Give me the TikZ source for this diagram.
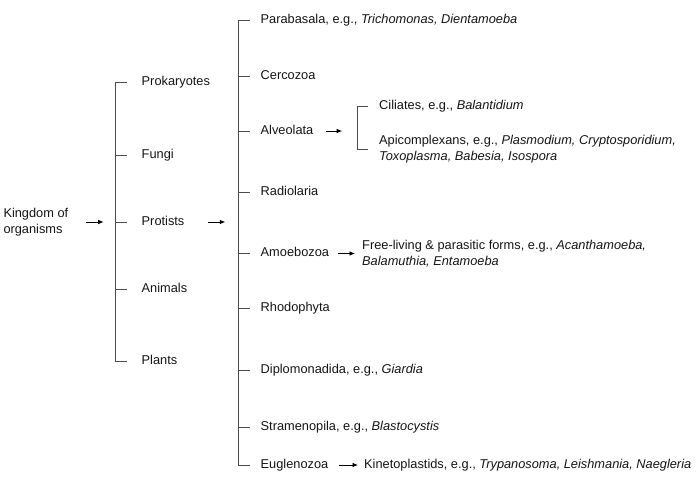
\documentclass[tikz,border=0pt]{standalone}
\usepackage{fontspec}
\setmainfont{Liberation Sans}
\usetikzlibrary{arrows.meta}

\begin{document}
\begin{tikzpicture}[x=1pt, y=-1pt,
  lbl/.style={anchor=west, inner sep=0pt, font=\fontsize{12.8}{16}\selectfont,
              text height=8.5pt, text depth=1.6pt, text=black!92},
  two/.style={anchor=west, inner sep=0pt, font=\fontsize{12.8}{16}\selectfont,
              align=left, text=black!92},
  br/.style={draw=black!70, line width=0.8pt},
  arr/.style={draw=black, line width=0.8pt, -{Latex[length=5.5pt,width=4.5pt]}},
]
\useasboundingbox (0,0) rectangle (700,480);
% kingdoms
\node[two] (king) at (3.3,222) {Kingdom of\\organisms};
\def\xa{141.5}
\foreach \n/\t/\y in {pro/Prokaryotes/82, fun/Fungi/155, prot/Protists/222,
                      ani/Animals/289.5, pla/Plants/361.5}
  \node[lbl] (\n) at (\xa,\y) {\t};
\draw[br] ([xshift=-15pt]pro.west) -- ([xshift=-25.8pt]pro.west)
  -- ([xshift=-25.8pt]pla.west) -- ([xshift=-15pt]pla.west);
\foreach \n in {fun,prot,ani}
  \draw[br] ([xshift=-25.8pt]\n.west) -- ([xshift=-15pt]\n.west);
\coordinate (sp1) at ([xshift=-25.8pt]prot.west);
\draw[arr, shorten >=12pt] ([xshift=18pt]king.east) -- (sp1);
% protist groups
\def\xb{260.5}
\foreach \n/\t/\y in {para/{Parabasala, e.g., \textit{Trichomonas, Dientamoeba}}/20.5,
                      cer/Cercozoa/76, alv/Alveolata/131, rad/Radiolaria/192,
                      amo/Amoebozoa/253.5, rho/Rhodophyta/308,
                      dip/{Diplomonadida, e.g., \textit{Giardia}}/370,
                      str/{Stramenopila, e.g., \textit{Blastocystis}}/427,
                      eug/Euglenozoa/465}
  \node[lbl] (\n) at (\xb,\y) {\t};
\draw[br] ([xshift=-10.5pt]para.west) -- ([xshift=-22.2pt]para.west)
  -- ([xshift=-22.2pt]eug.west) -- ([xshift=-10.5pt]eug.west);
\foreach \n in {cer,alv,rad,amo,rho,dip,str}
  \draw[br] ([xshift=-22.2pt]\n.west) -- ([xshift=-10.5pt]\n.west);
\coordinate (sp2) at ([xshift=-22.2pt]prot.west -| para.west);
\draw[arr, shorten >=13pt] ([xshift=23pt]prot.east) -- (sp2);
% alveolates
\node[lbl] (cil) at (379,106.5) {Ciliates, e.g., \textit{Balantidium}};
\node[two] (api) at (379,149) {Apicomplexans, e.g., \textit{Plasmodium, Cryptosporidium,}\\
  \textit{Toxoplasma, Babesia, Isospora}};
\draw[br] ([xshift=-11pt]cil.west) -- ([xshift=-21.3pt]cil.west)
  -- ([xshift=-21.3pt]api.west) -- ([xshift=-11pt]api.west);
\coordinate (sp3) at ([xshift=-21.3pt]alv.west -| cil.west);
\draw[arr, shorten >=15.5pt] ([xshift=12.5pt]alv.east) -- (sp3);
% amoebae and kinetoplastids
\node[two] (free) at (362,253.5) {Free-living \& parasitic forms, e.g., \textit{Acanthamoeba,}\\
  \textit{Balamuthia, Entamoeba}};
\draw[arr, shorten >=7pt] ([xshift=8.5pt]amo.east) -- (free.west |- amo.west);
\node[lbl] (kin) at (364,465) {Kinetoplastids, e.g., \textit{Trypanosoma, Leishmania, Naegleria}};
\draw[arr, shorten >=6pt] ([xshift=10pt]eug.east) -- (kin.west);
\end{tikzpicture}
\end{document}
